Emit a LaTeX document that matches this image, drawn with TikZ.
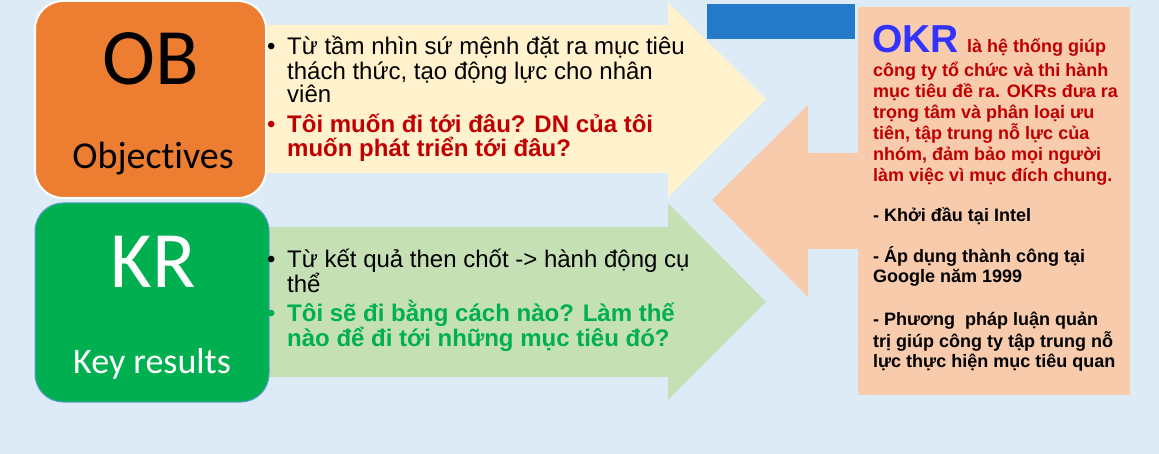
\documentclass[tikz,border=0pt]{standalone}
\usepackage{fontspec}
\setmainfont{Liberation Sans}
\newfontfamily\calib[Ligatures=NoCommon]{Carlito}
\definecolor{bgblue}{HTML}{DDEBF7}
\definecolor{oborange}{HTML}{ED7D31}
\definecolor{krgreen}{HTML}{00B050}
\definecolor{arryellow}{HTML}{FFF2CC}
\definecolor{arrgreen}{HTML}{C5E0B4}
\definecolor{peach}{HTML}{F8CBAD}
\definecolor{barblue}{HTML}{2479C8}
\definecolor{okrred}{HTML}{C00000}
\definecolor{okrblue}{HTML}{3333FF}
\definecolor{krborder}{HTML}{5B9BD5}
\begin{document}
\begin{tikzpicture}[x=1pt,y=-1pt,
  bigl/.style={anchor=base, inner sep=0, font=\calib\fontsize{80}{80}\selectfont},
  smalll/.style={anchor=base, inner sep=0, font=\calib\fontsize{38}{38}\selectfont},
  ln/.style={anchor=base west, inner sep=0, font=\fontsize{24}{24}\selectfont},
  lnb/.style={ln, font=\fontsize{24}{24}\selectfont\bfseries},
  okl/.style={anchor=base west, inner sep=0, font=\fontsize{18}{21}\selectfont\bfseries, text=okrred},
  okb/.style={okl, text=black},
  panel/.style={inner sep=0, outer sep=0}]
\fill[bgblue] (0,0) rectangle (1159,454);
\useasboundingbox (0,0) rectangle (1159,454);
% arrows
\fill[arryellow] (250,25) -- (668,25) -- (668,2) -- (766,99) -- (668,197) -- (668,173) -- (250,173) -- cycle;
\fill[arrgreen] (250,227) -- (668,227) -- (668,203) -- (766,302) -- (668,400) -- (668,377) -- (250,377) -- cycle;
\fill[peach] (712,200) -- (808,105) -- (808,153) -- (870,153) -- (870,249) -- (808,249) -- (808,297) -- cycle;
% right panel and blue bar
\node[panel, fill=peach, minimum width=272pt, minimum height=388pt] (okr) at (994,201) {};
\node[panel, fill=barblue, minimum width=148pt, minimum height=35pt] (bar) at (781,21.5) {};
% OB / KR boxes
\node[panel, fill=oborange, draw=white, line width=2pt, rounded corners=28pt, minimum width=231pt, minimum height=197pt] (ob) at (150.5,99.5) {};
\node[panel, fill=krgreen, draw=krborder, line width=1pt, rounded corners=28pt, minimum width=234pt, minimum height=199pt] (kr) at (152,302.5) {};
\node[bigl] (obt) at (151,85) {OB};
\node[smalll] (obs) at (153,169) {Objectives};
\node[bigl, text=white] (krt) at (153,288) {KR};
\node[smalll, text=white, font=\calib\fontsize{36}{36}\selectfont] (krs) at (152,373) {Key results};
% top arrow text
\node[ln] (b1) at (267,55) {•};
\node[ln] (t1) at (287,55) {Từ tầm nhìn sứ mệnh đặt ra mục tiêu};
\node[ln] (t2) at (287,80) {thách thức, tạo động lực cho nhân};
\node[ln] (t3) at (287,103) {viên};
\node[ln, text=okrred] (b2) at (267,133) {•};
\node[lnb, text=okrred] (t4) at (287,133) {Tôi muốn đi tới đâu? DN của tôi};
\node[lnb, text=okrred] (t5) at (287,157) {muốn phát triển tới đâu?};
% bottom arrow text
\node[ln] (b3) at (267,268) {•};
\node[ln] (g1) at (287,268) {Từ kết quả then chốt -> hành động cụ};
\node[ln] (g2) at (287,293) {thể};
\node[ln, text=krgreen] (b4) at (267,322) {•};
\node[lnb, text=krgreen] (g3) at (287,322) {Tôi sẽ đi bằng cách nào? Làm thế};
\node[lnb, text=krgreen] (g4) at (287,346) {nào để đi tới những mục tiêu đó?};
% right panel text
\node[anchor=base west, inner sep=0, font=\fontsize{39}{39}\selectfont\bfseries, text=okrblue] (okrt) at (872,53) {OKR};
\node[okl] (r1) at (967,53) {là hệ thống giúp};
\node[okl] (r2) at (873,77) {công ty tổ chức và thi hành};
\node[okl] (r3) at (873,98) {mục tiêu đề ra. OKRs đưa ra};
\node[okl] (r4) at (873,119) {trọng tâm và phân loại ưu};
\node[okl] (r5) at (873,140) {tiên, tập trung nỗ lực của};
\node[okl] (r6) at (873,161) {nhóm, đảm bảo mọi người};
\node[okl] (r7) at (873,182) {làm việc vì mục đích chung.};
\node[okb] (r8) at (873,222) {- Khởi đầu tại Intel};
\node[okb] (r9) at (873,263) {- Áp dụng thành công tại};
\node[okb] (r10) at (873,283) {Google năm 1999};
\node[okb] (r11) at (873,326) {- Phương\ \ pháp luận quản};
\node[okb] (r12) at (873,347) {trị giúp công ty tập trung nỗ};
\node[okb] (r13) at (873,367) {lực thực hiện mục tiêu quan};
\end{tikzpicture}
\end{document}
